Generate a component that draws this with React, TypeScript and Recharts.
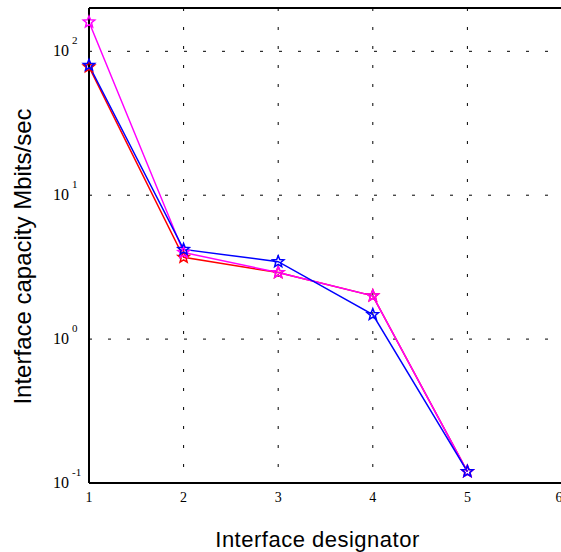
import React from 'react'
import {
  LineChart,
  Line,
  XAxis,
  YAxis,
  CartesianGrid,
  ReferenceLine,
} from 'recharts'

const designators = [1, 2, 3, 4, 5]
const xTicks = [1, 2, 3, 4, 5, 6]
const yTicks = [0.1, 1, 10, 100]

const redSeries = [78, 3.7, 2.9, 2.0, 0.12]
const magentaSeries = [160, 4.0, 2.9, 2.0, 0.12]
const blueSeries = [80, 4.2, 3.45, 1.48, 0.12]

const SERIF = '"Liberation Serif", "Times New Roman", serif'
const SANS = '"Liberation Sans", Arial, sans-serif'

const chartData = designators.map((x, i) => ({
  x,
  red: redSeries[i],
  magenta: magentaSeries[i],
  blue: blueSeries[i],
}))

// outline star marker like matlab's 'p'
function starDot(color: string) {
  return (props: any) => {
    const { cx, cy, index } = props
    if (cx == null || cy == null) return <g key={`s-${color}-${index}`} />
    const outer = 6
    const inner = 2.6
    const pts: string[] = []
    for (let k = 0; k < 10; k++) {
      const r = k % 2 === 0 ? outer : inner
      const a = -Math.PI / 2 + (k * Math.PI) / 5
      pts.push(`${cx + r * Math.cos(a)},${cy + r * Math.sin(a)}`)
    }
    return (
      <polygon
        key={`s-${color}-${index}`}
        points={pts.join(' ')}
        fill="none"
        stroke={color}
        strokeWidth={1.5}
      />
    )
  }
}

const LogTick = (props: any) => {
  const { x, y, payload } = props
  const exp = Math.round(Math.log10(payload.value))
  return (
    <g>
      <text x={x - 20} y={y + 5} textAnchor="end" fontFamily={SERIF} fontSize={16} fill="#000">
        10
      </text>
      <text x={x - 17} y={y - 7} textAnchor="start" fontFamily={SERIF} fontSize={11} fill="#000">
        {exp}
      </text>
    </g>
  )
}

const XTick = (props: any) => {
  const { x, y, payload } = props
  return (
    <text x={x} y={y + 19} textAnchor="middle" fontFamily={SERIF} fontSize={14} fill="#000">
      {payload.value}
    </text>
  )
}

export default function App() {
  return (
    <div
      style={{
        position: 'absolute',
        left: 0,
        top: 0,
        width: 561,
        height: 552,
        overflow: 'hidden',
        background: '#fff',
      }}
    >
      <LineChart
        width={563}
        height={552}
        data={chartData}
        margin={{ top: 8, right: 1, left: 0, bottom: 0 }}
      >
        <CartesianGrid
          stroke="#000"
          strokeDasharray="3 16"
          horizontalValues={yTicks}
          verticalValues={xTicks}
        />
        <XAxis
          dataKey="x"
          type="number"
          domain={[1, 6]}
          ticks={xTicks}
          height={69}
          tickSize={0}
          tickMargin={0}
          tickLine={false}
          axisLine={{ stroke: '#000', strokeWidth: 2 }}
          tick={<XTick />}
          label={{
            content: ({ viewBox }: any) => (
              <text
                x={viewBox.x + viewBox.width / 2 - 8}
                y={547}
                textAnchor="middle"
                fontFamily={SANS}
                fontSize={22}
                letterSpacing={0.5}
                fill="#000"
              >
                Interface designator
              </text>
            ),
          }}
        />
        <YAxis
          scale="log"
          type="number"
          domain={[0.1, 200]}
          ticks={yTicks}
          allowDataOverflow
          width={89}
          tickSize={0}
          tickMargin={0}
          tickLine={false}
          axisLine={{ stroke: '#000', strokeWidth: 2 }}
          tick={<LogTick />}
          label={{
            content: ({ viewBox }: any) => {
              const cy = viewBox.y + viewBox.height / 2 + 11
              return (
                <text
                  x={31}
                  y={cy}
                  transform={`rotate(-90, 31, ${cy})`}
                  textAnchor="middle"
                  fontFamily={SANS}
                  fontSize={24}
                  fill="#000"
                >
                  Interface capacity Mbits/sec
                </text>
              )
            },
          }}
        />
        <ReferenceLine y={200} stroke="#000" strokeWidth={2} ifOverflow="visible" />
        <Line
          dataKey="red"
          stroke="#ff0000"
          strokeWidth={1.5}
          dot={starDot('#ff0000')}
          isAnimationActive={false}
        />
        <Line
          dataKey="magenta"
          stroke="#ff00ff"
          strokeWidth={1.5}
          dot={starDot('#ff00ff')}
          isAnimationActive={false}
        />
        <Line
          dataKey="blue"
          stroke="#0000ff"
          strokeWidth={1.5}
          dot={starDot('#0000ff')}
          isAnimationActive={false}
        />
      </LineChart>
    </div>
  )
}
